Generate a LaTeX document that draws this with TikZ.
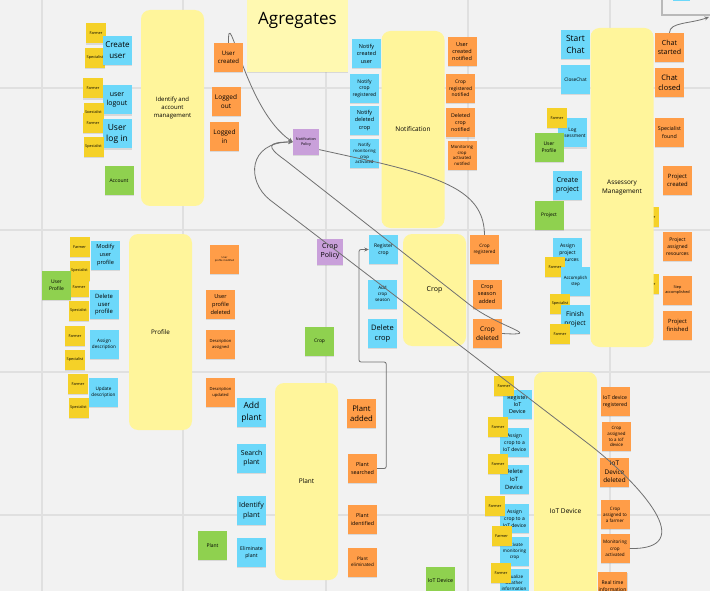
\documentclass[tikz,border=0pt]{standalone}
\usepackage{fontspec}
\setmainfont{Open Sans}
\usepackage{tikz}
\usetikzlibrary{arrows.meta,calc,shadows}
\definecolor{NoteBlue}{HTML}{6CD8FA}
\definecolor{NoteOrange}{HTML}{FF9D48}
\definecolor{NoteYellow}{HTML}{F5D128}
\definecolor{NoteGreen}{HTML}{8FD14F}
\definecolor{NotePurple}{HTML}{C9A0DA}
\definecolor{AggYellow}{HTML}{FFF59B}
\definecolor{LightYellow}{HTML}{FFF9B1}
\definecolor{BoardGray}{HTML}{F2F2F2}
\definecolor{GridGray}{HTML}{E0E0E0}
\definecolor{LinkGray}{HTML}{707070}
\newcommand\stfont[1]{\fontsize{#1}{\fpeval{1.35*#1}}\selectfont}
\pgfdeclarelayer{back}
\pgfsetlayers{back,main}
\tikzset{
  fsz/.style={font=\stfont{#1}},
  note/.style={minimum width=29, minimum height=29, inner sep=1pt, align=center,
    drop shadow={shadow xshift=0.3pt, shadow yshift=-1.4pt, opacity=0.22}},
  cmd/.style={note, fill=NoteBlue},
  evt/.style={note, fill=NoteOrange},
  act/.style={note, fill=NoteYellow, minimum width=20, minimum height=20, fsz=3.8},
  ent/.style={note, fill=NoteGreen},
  pol/.style={note, fill=NotePurple, minimum width=26, minimum height=26},
  agg/.style={fill=AggYellow, rounded corners=9, minimum width=63, inner sep=1pt, align=center},
  grid/.style={GridGray, line width=1.2},
  link/.style={LinkGray, line width=0.8},
  flow/.style={link, -{Stealth[length=4.5,width=4]}}
}

\begin{document}
\begin{tikzpicture}[x=1pt,y=-1pt]
    \clip (0,0) rectangle (710,591);
    %%Board
    \begin{pgfonlayer}{back}
    \fill[BoardGray] (0,0) rectangle (710,591);
    \foreach \gx in {42,183,326,468,610} \draw[grid] (\gx,0) -- (\gx,591);
    \foreach \gy in {88,230,372,515} \draw[grid] (0,\gy) -- (710,\gy);
    \end{pgfonlayer}
    \draw[GridGray!60!gray, line width=1.2] (662,-2) -- (662,15) -- (712,15);
    \fill[NoteBlue] (673,-2) rectangle (690,1.5);

    %%Agregates
    \node[note, fill=LightYellow, minimum width=101, minimum height=82] (agr) at (297.5,31) {};
    \node[font=\fontsize{17}{20}\selectfont] (agrT) at (297.5,20) {Agregates};

    %%Identify and account management
    \node[act] (f1) at (96,33.5) {Farmer};
    \node[act] (s1) at (95,58) {Specialist};
    \node[cmd, fsz=8] (cru) at (117.5,50.5) {Create\\user};
    \node[act] (f2) at (93,88.5) {Farmer};
    \node[cmd, fsz=7] (lou) at (117,100) {user\\logout};
    \node[act] (s2) at (93.5,113) {Specialist};
    \node[act] (f3) at (93,123) {Farmer};
    \node[cmd, fsz=8.5] (lin) at (117,134) {User\\log in};
    \node[act] (s3) at (93.5,147) {Specialist};
    \node[ent, fsz=5] (acc) at (119,180.5) {Account};
    \node[agg, minimum height=196, fsz=6] (agId) at (172.5,108) {Identify and\\account\\management};
    \node[evt, fsz=6] (ucr) at (228.5,57.5) {User\\created};
    \node[evt, fsz=6.5] (lgo) at (226,101.5) {Logged\\out};
    \node[evt, fsz=6.5] (lgi) at (224.5,136.5) {Logged\\in};

    %%Notification
    \node[cmd, fsz=5.5] (nCU) at (366.5,53.5) {Notify\\created\\user};
    \node[cmd, fsz=5] (nCR) at (364.5,88.5) {Notify\\crop\\registered};
    \node[cmd, fsz=5.5] (nDC) at (364.5,120.5) {Notify\\deleted\\crop};
    \node[cmd, fsz=4.3] (nMC) at (364.5,153.5) {Notify\\monitoring\\crop\\activated};
    \node[agg, minimum height=197, fsz=6.5] (agNo) at (413,129.5) {Notification};
    \node[evt, fsz=5.5] (eUN) at (462,51.5) {User\\created\\notified};
    \node[evt, fsz=4.9] (eCN) at (460.5,88.5) {Crop\\registered\\notified};
    \node[evt, fsz=5.2] (eDN) at (460.5,123) {Deleted\\crop\\notified};
    \node[evt, fsz=4.3] (eMN) at (462,155.5) {Monitoring\\crop\\activated\\notified};
    \node[pol, fsz=3.7] (npol) at (306,142) {Notification\\Policy};

    %%Assessory Management
    \node[cmd, fsz=8.5] (sCh) at (575.5,44.5) {Start\\Chat};
    \node[cmd, fsz=4.8] (cCh) at (575.5,79.5) {CloseChat};
    \node[act] (h1) at (649,217) {Farmer};
    \node[act] (h2) at (649,284) {Farmer};
    \node[agg, minimum height=319, fsz=6.4] (agAs) at (622,187.5) {Assessory\\Management};
    \node[evt, fsz=7] (eCS) at (669.5,47.5) {Chat\\started};
    \node[evt, fsz=7.5] (eCC) at (669.5,82.5) {Chat\\closed};
    \node[cmd, fsz=4.8] (lAs) at (572.5,133) {Log\\assessment};
    \node[act] (f4) at (557,118) {Farmer};
    \node[ent, fsz=5] (upA) at (549,147.5) {User\\Profile};
    \node[evt, fsz=5.3] (eSF) at (669.5,132.5) {Specialist\\found};
    \node[cmd, fsz=7] (cPr) at (567.5,185.5) {Create\\project};
    \node[evt, fsz=5.9] (ePC) at (677.5,180.5) {Project\\created};
    \node[ent, fsz=4.9] (prj) at (549,215.5) {Project};
    \node[cmd, fsz=5] (aPr) at (567.5,252.5) {Assign\\project\\resources};
    \node[act] (f5) at (555,267) {Farmer};
    \node[cmd, fsz=4.4] (acS) at (575.5,281.5) {Accomplish\\step};
    \node[act] (s4) at (560,304) {Specialist};
    \node[cmd, fsz=6.6] (fPr) at (575,319.5) {Finish\\project};
    \node[act] (f6) at (560,334) {Farmer};
    \node[evt, fsz=5] (ePA) at (677.5,246.5) {Project\\assigned\\resources};
    \node[evt, fsz=3.8] (eSA) at (677.5,290.5) {Step\\accomplished};
    \node[evt, fsz=5.8] (ePF) at (677.5,325.5) {Project\\finished};

    %%Profile
    \node[act] (f7) at (79.5,247) {Farmer};
    \node[cmd, fsz=5.6] (mUP) at (105.5,255) {Modify\\user\\profile};
    \node[act] (s5) at (79.5,271) {Specialist};
    \node[act] (f8) at (79,287) {Farmer};
    \node[ent, fsz=5] (upP) at (56.5,285.5) {User\\Profile};
    \node[cmd, fsz=5.9] (dUP) at (104,304.5) {Delete\\user\\profile};
    \node[act] (s6) at (78.5,311) {Specialist};
    \node[act] (f9) at (75,336) {Farmer};
    \node[cmd, fsz=4.6] (aDe) at (104,344.5) {Assign\\description};
    \node[act] (s7) at (75,360) {Specialist};
    \node[act] (f10) at (78,384) {Farmer};
    \node[cmd, fsz=4.6] (uDe) at (103.5,392.5) {Update\\description};
    \node[act] (s8) at (78.5,408) {Specialist};
    \node[agg, minimum height=196, fsz=6.3] (agPr) at (160.5,332) {Profile};
    \node[evt, fsz=2.6] (eUM) at (224.5,259.5) {User\\profile modified};
    \node[evt, fsz=5.6] (eUD) at (220.5,304.5) {User\\profile\\deleted};
    \node[evt, fsz=4.1] (eDA) at (220.5,344.5) {Description\\assigned};
    \node[evt, fsz=4.1] (eDU) at (220.5,392.5) {Description\\updated};

    %%Crop
    \node[pol, fsz=7] (cpol) at (330,251.5) {Crop\\Policy};
    \node[cmd, fsz=5] (rCr) at (383.5,249.5) {Register\\crop};
    \node[cmd, fsz=4.5] (aCS) at (382.5,294) {Add\\crop\\season};
    \node[cmd, fsz=7.5] (dCr) at (382.5,333.5) {Delete\\crop};
    \node[agg, minimum height=112, fsz=7] (agCr) at (434.5,290) {Crop};
    \node[evt, fsz=4.6] (eCR) at (484.5,249.5) {Crop\\registered};
    \node[evt, fsz=5.5] (eCA) at (487,294) {Crop\\season\\added};
    \node[evt, fsz=6.5] (eCD) at (487.5,333.5) {Crop\\deleted};
    \node[ent, fsz=4.9] (crp) at (319.5,341.5) {Crop};

    %%Plant
    \node[cmd, fsz=8.5] (aPl) at (251.5,412.5) {Add\\plant};
    \node[cmd, fsz=6.8] (sPl) at (251.5,458.5) {Search\\plant};
    \node[cmd, fsz=7] (iPl) at (251.5,510.5) {Identify\\plant};
    \node[cmd, fsz=5.2] (ePl) at (251.5,552.5) {Eliminate\\plant};
    \node[ent, fsz=5] (pla) at (212.5,545.5) {Plant};
    \node[agg, minimum height=197, fsz=6.5] (agPl) at (306.5,481.5) {Plant};
    \node[evt, fsz=7.7] (ePA2) at (361.5,413.5) {Plant\\added};
    \node[evt, fsz=5.4] (ePS) at (362.5,468.5) {Plant\\searched};
    \node[evt, fsz=5.3] (ePI) at (362.5,519.5) {Plant\\identified};
    \node[evt, fsz=4.6] (ePE) at (362.5,562) {Plant\\eliminated};

    %%IoT Device
    \node[agg, minimum height=278, fsz=6.6] (agIo) at (565.5,511) {IoT Device};
    \node[cmd, fsz=5.4] (rIo) at (517.5,404.5) {Register\\IoT\\Device};
    \node[act] (f11) at (504,386) {Farmer};
    \node[cmd, fsz=5] (aIo1) at (514.5,442.5) {Assign\\crop to a\\IoT device};
    \node[act] (f12) at (498,427) {Farmer};
    \node[cmd, fsz=5.8] (dIo) at (514,479.5) {Delete\\IoT\\Device};
    \node[act] (f13) at (498,464) {Farmer};
    \node[cmd, fsz=5] (aIo2) at (514.5,518.5) {Assign\\crop to a\\IoT device};
    \node[act] (f14) at (495,506) {Farmer};
    \node[cmd, fsz=4.5] (amc) at (514.5,551.5) {Activate\\monitoring\\crop};
    \node[act] (f15) at (501.5,536) {Farmer};
    \node[cmd, fsz=4.5] (vwi) at (514,583) {Visualize\\weather\\information};
    \node[act] (f16) at (501,573) {Farmer};
    \node[ent, fsz=5.3] (iod) at (440.5,581) {IoT Device};
    \node[evt, fsz=5.2] (eIR) at (615,401.5) {IoT device\\registered};
    \node[evt, fsz=4.4] (eCI) at (616.5,436.5) {Crop\\assigned\\to a IoT\\device};
    \node[evt, fsz=6.4] (eID) at (614.5,472) {IoT\\Device\\deleted};
    \node[evt, fsz=4.5] (eCF) at (615,514.5) {Crop\\assigned to\\a farmer};
    \node[evt, fsz=4.6] (eMC) at (615,548.5) {Monitoring\\crop\\activated};
    \node[evt, fsz=5] (eRT) at (612.5,586) {Real time\\information};

    %%Policies
    \begin{pgfonlayer}{back}
    \draw[flow] (ucr.north) .. controls (228,0) and (245,110) .. (npol.west);
    \end{pgfonlayer}
    \draw[link] (eCR.north) .. controls (484,195) and (450,180) .. (380,163) -- (npol.-30);
    \draw[flow] (eCD.east) .. controls (545,336) and (500,328) .. (470,305)
      -- (285,160) .. controls (265,146) and (268,142) .. (npol.west);
    \draw[flow] (eMC.east) .. controls (700,550) and (640,484) .. (590,445)
      -- (270,200) .. controls (246,181) and (248,142) .. (npol.west);
    \draw[flow, rounded corners=2] (ePS.east) -- ++(9,0) |- (359,362) |- (rCr.west);
    \coordinate (ext) at (709,17);
    \draw[flow] (eCS.north) .. controls (669.5,22) and (690,24) .. (ext);
\end{tikzpicture}
\end{document}
